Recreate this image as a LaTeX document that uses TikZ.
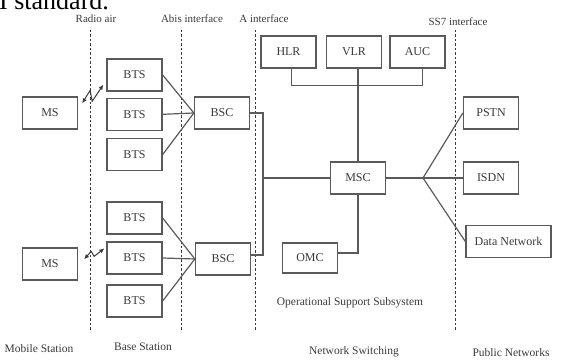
\documentclass[tikz,border=0pt]{standalone}
\usepackage{fontspec}
\setmainfont{Liberation Serif}
\usepackage{tikz}
\usetikzlibrary{arrows.meta, positioning, calc}
\definecolor{ink}{HTML}{3A3A3A}
\definecolor{wire}{HTML}{5A5A5A}

\begin{document}
\begin{tikzpicture}[
    x=1pt, y=-1pt,
    box/.style={rectangle, draw=wire, line width=1.3pt, fill=white, minimum width=55pt, minimum height=32pt, inner sep=1pt, font=\fontsize{12}{12}\selectfont, text=ink},
    iface/.style={draw=ink, line width=0.8pt, dash pattern=on 2.5pt off 2pt},
    iflabel/.style={font=\fontsize{11}{11}\selectfont, text=ink, inner sep=1pt},
    grouplabel/.style={font=\fontsize{11.5}{12}\selectfont, text=ink, inner sep=1pt},
    link/.style={draw=wire, line width=1.2pt},
    radio/.style={draw=ink, line width=1pt, {Latex[length=5pt,width=4.5pt]}-{Latex[length=5pt,width=4.5pt]}},
  ]
  \clip (0,0) rectangle (566,361);
  \node[anchor=base west, inner sep=0pt, font=\fontsize{26}{26}\selectfont, text=black] (prev) at (-1,10) {I standard.};

  % Interface boundaries
  \foreach \x in {90,181,255,455}
    \draw[iface] (\x,30) -- (\x,331);
  \node[iflabel] (airlbl) at (96,19) {Radio air};
  \node[iflabel] (abislbl) at (192,19) {Abis interface};
  \node[iflabel] (albl) at (264,19) {A interface};
  \node[iflabel] (sslbl) at (458,22) {SS7 interface};

  % Mobile stations and base station subsystem
  \node[box] (ms1) at (50,113) {MS};
  \node[box] (ms2) at (50,264) {MS};
  \node[box] (bts1) at (134.5,75) {BTS};
  \node[box, below=6pt of bts1] (bts2) {BTS};
  \node[box, below=7pt of bts2] (bts3) {BTS};
  \node[box] (bts4) at (134.5,218) {BTS};
  \node[box] (bts5) at (134.5,258) {BTS};
  \node[box] (bts6) at (134.5,301) {BTS};
  \node[box] (bsc1) at (222,113) {BSC};
  \node[box] (bsc2) at (223,259) {BSC};

  % Network switching subsystem
  \node[box] (msc) at (358,178) {MSC};
  \node[box] (hlr) at (288.5,52) {HLR};
  \node[box] (vlr) at (354,52) {VLR};
  \node[box] (auc) at (417.5,52) {AUC};
  \node[box, minimum height=30pt] (omc) at (310,258) {OMC};

  % Public networks
  \node[box] (pstn) at (491,113) {PSTN};
  \node[box] (isdn) at (491,178) {ISDN};
  \node[box, minimum width=85pt] (data) at (508.5,241.5) {Data Network};

  % Group labels
  \node[grouplabel] (oss) at (350,303) {Operational Support Subsystem};
  \node[grouplabel] (mslbl) at (39,349) {Mobile Station};
  \node[grouplabel] (bslbl) at (143,347) {Base Station};
  \node[grouplabel] (nslbl) at (354,352) {Network Switching};
  \node[grouplabel] (pnlbl) at (511,353) {Public Networks};

  % Radio links
  \draw[radio] ([xshift=4pt,yshift=-7pt]ms1.north east) -- ++(8,-13) -- ++(2,11) -- ([xshift=-3pt,yshift=7pt]bts1.south west);
  \draw[radio] ([xshift=6pt,yshift=-12pt]ms2.north east) -- ++(7,-8) -- ++(3,5) -- ([xshift=-2pt,yshift=-7pt]bts5.north west);

  % BTS to BSC
  \foreach \b in {bts1,bts2,bts3}
    \draw[link] (\b.east) -- (bsc1.west);
  \foreach \b in {bts4,bts5,bts6}
    \draw[link] (\b.east) -- (bsc2.west);

  % BSC to MSC
  \coordinate (abus) at (263,113);
  \draw[link] (bsc1.east) -- (abus) |- ([yshift=4pt]bsc2.east);
  \draw[link] (msc.west) -- (msc.west -| abus);

  % Registers and OMC
  \draw[link] (hlr.south) ++(3,0) -- ++(0,17) -| ([xshift=5pt]auc.south);
  \draw[link] (msc.north) -- (msc.north |- vlr.south);
  \draw[link] ([yshift=5pt]omc.east) -| (msc.south);

  % MSC to public networks
  \coordinate (fan) at (423,178);
  \draw[link] (msc.east) -- (fan);
  \draw[link] (fan) -- (pstn.west);
  \draw[link] (fan) -- (isdn.west);
  \draw[link] (fan) -- (data.west);
\end{tikzpicture}
\end{document}
